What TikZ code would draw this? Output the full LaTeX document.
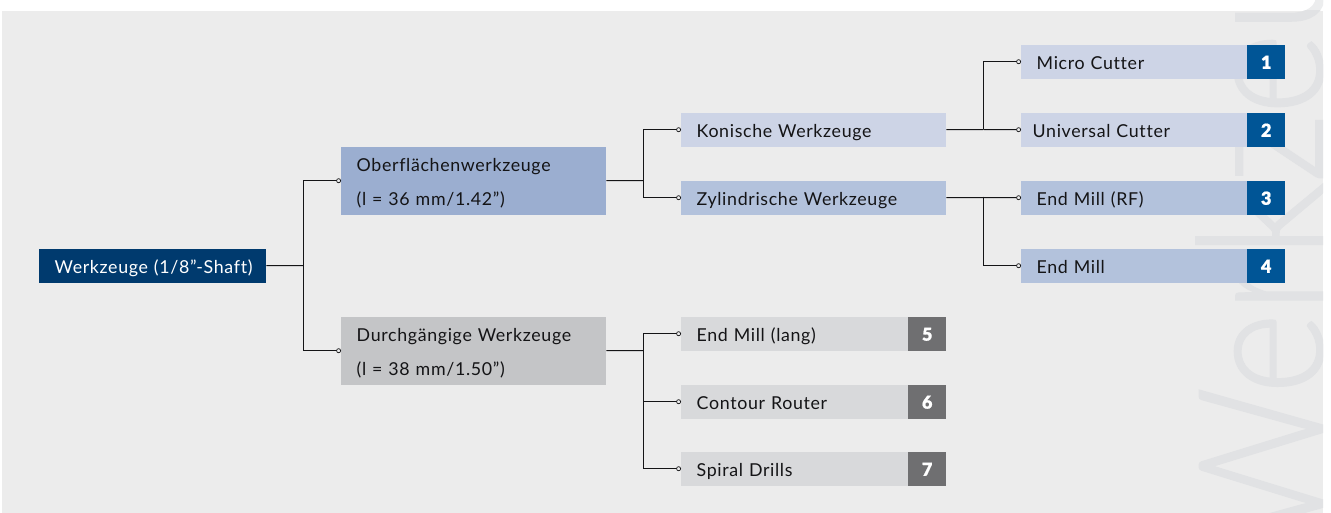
\documentclass[tikz,border=0pt]{standalone}
\usepackage{fontspec}
\usetikzlibrary{arrows.meta}
\setmainfont[LetterSpace=3.7,RawFeature={-liga;-clig;-dlig}]{Lato}
\newfontfamily\wmfont[FakeBold=1.0]{Lato Light}
\newfontfamily\numfont[FakeBold=0.8]{Lato Black}
\definecolor{panel}{HTML}{ECECEC}
\definecolor{wmA}{HTML}{E1E2E4}
\definecolor{wmB}{HTML}{ECEDEE}
\definecolor{rootc}{HTML}{003A6E}
\definecolor{midblue}{HTML}{9BAED0}
\definecolor{midgray}{HTML}{C4C5C7}
\definecolor{palec}{HTML}{CDD4E6}
\definecolor{softc}{HTML}{B3C2DC}
\definecolor{lgray}{HTML}{D8D9DB}
\definecolor{numblue}{HTML}{005596}
\definecolor{numgray}{HTML}{6F6F71}
\definecolor{ink}{HTML}{141416}
\tikzset{
  x=1pt,y=-1pt,
  box/.style={draw=none,anchor=north west,inner ysep=0pt,inner xsep=15.5pt,text height=24.2pt,text depth=9.8pt,
     align=left,font=\fontsize{17.8}{34}\selectfont,text=ink},
  tall/.style={text depth=43.8pt},
  wide/.style={box,minimum width=265pt,text width=234pt},
  cell/.style={box,minimum width=226pt,text width=195pt},
  gcell/.style={box,minimum width=227pt,text width=196pt},
  num/.style={draw=none,anchor=north west,inner sep=0pt,minimum width=38pt,minimum height=34pt,text=white,
     font=\numfont\fontsize{18}{20}\selectfont},
  link/.style={draw=ink,line width=1pt,-{Circle[open,fill=panel,length=4.8pt,width=4.8pt,line width=0.7pt]}},
  stem/.style={draw=ink,line width=1pt},
  wm/.style={rotate=90,xscale=0.9,anchor=base west,inner sep=0pt,font=\wmfont\fontsize{174}{174}\selectfont},
  port/.style={yshift=0.5pt},
}
\begin{document}
\begin{tikzpicture}
\useasboundingbox (0,0) rectangle (1331,513);
\fill[white] (0,0) rectangle (1331,513);
\fill[panel] (2,11) rectangle (1323,513);
\begin{scope}
\clip (2,0) rectangle (1323,11);
\node[wm,text=wmB] (wmtop) at (1322.5,546) {Werkzeu};
\end{scope}
\begin{scope}
\clip (2,11) rectangle (1323,513);
\node[wm,text=wmA] (wmain) at (1322.5,546) {Werkzeu};
\end{scope}

\node[box,fill=rootc,text=white,minimum width=227pt,text width=196pt] (root) at (39,249) {\mbox{Werkzeuge (1/8”-Shaft)}};
\node[wide,tall,fill=midblue] (ober) at (341,147) {Oberflächenwerkzeuge\\(l = 36 mm/1.42”)};
\node[wide,tall,fill=midgray] (durch) at (341,317) {Durchgängige Werkzeuge\\(l = 38 mm/1.50”)};
\node[wide,fill=palec] (kon) at (681,113) {Konische Werkzeuge};
\node[wide,fill=softc] (zyl) at (681,181) {Zylindrische Werkzeuge};

\node[cell,fill=palec] (micro) at (1021,45) {Micro Cutter};
\node[cell,fill=palec,inner xsep=11.5pt,text width=203pt] (univ) at (1021,113) {Universal Cutter};
\node[cell,fill=softc] (rf) at (1021,181) {End Mill (RF)};
\node[cell,fill=softc] (em) at (1021,249) {End Mill};
\node[num,fill=numblue] (n1) at (1247,45) {1};
\node[num,fill=numblue] (n2) at (1247,113) {2};
\node[num,fill=numblue] (n3) at (1247,181) {3};
\node[num,fill=numblue] (n4) at (1247,249) {4};

\node[gcell,fill=lgray] (lang) at (681,317) {End Mill (lang)};
\node[gcell,fill=lgray] (cont) at (681,385) {Contour Router};
\node[gcell,fill=lgray] (spir) at (681,452) {Spiral Drills};
\node[num,fill=numgray] (n5) at (908,317) {5};
\node[num,fill=numgray] (n6) at (908,385) {6};
\node[num,fill=numgray] (n7) at (908,452) {7};

\coordinate (j1) at (303.5,265.5);
\coordinate (j2) at (643.5,180.5);
\coordinate (j3) at (983.5,129.5);
\coordinate (j4) at (983.5,197.5);
\coordinate (j5) at (643.5,350.5);

\draw[stem] ([port]root.east) -- (j1);
\draw[link] (j1) |- ([port]ober.west);
\draw[link] (j1) |- ([port]durch.west);
\draw[stem] ([port]ober.east) -- (j2);
\draw[link] (j2) |- ([port]kon.west);
\draw[link] (j2) |- ([port]zyl.west);
\draw[stem] ([port]kon.east) -- (j3);
\draw[link] (j3) |- ([port]micro.west);
\draw[link] (j3) -- ([port]univ.west);
\draw[stem] ([port]zyl.east) -- (j4);
\draw[link] (j4) -- ([port]rf.west);
\draw[link] (j4) |- ([port]em.west);
\draw[stem] ([port]durch.east) -- (j5);
\draw[link] (j5) |- ([port]lang.west);
\draw[link] (j5) |- ([port]cont.west);
\draw[link] (j5) |- ([port]spir.west);
\end{tikzpicture}
\end{document}
